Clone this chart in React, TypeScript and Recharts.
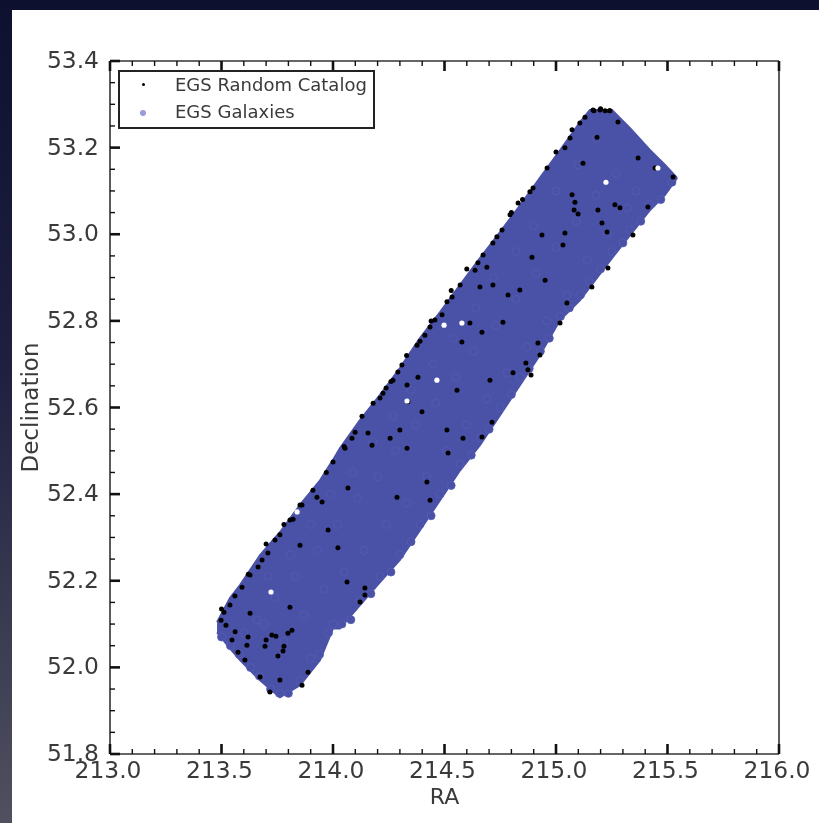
import React from "react";
import {
  Area,
  CartesianGrid,
  ComposedChart,
  Label,
  Legend,
  Scatter,
  XAxis,
  YAxis,
} from "recharts";

// survey footprint
const edgeRa = [213.48, 213.538, 213.583, 213.673, 213.762, 213.852, 213.942, 214.0, 214.031, 214.121, 214.211, 214.3, 214.39, 214.48, 214.57, 214.659, 214.749, 214.839, 214.928, 215.018, 215.108, 215.152, 215.251, 215.332, 215.422, 215.489, 215.543];
const edgeLow = [52.081, 52.044, 52.017, 51.97, 51.931, 51.959, 52.017, 52.09, 52.09, 52.144, 52.197, 52.248, 52.317, 52.386, 52.455, 52.513, 52.582, 52.652, 52.721, 52.802, 52.848, 52.878, 52.945, 52.998, 53.056, 53.091, 53.13];
const edgeHigh = [52.104, 52.16, 52.19, 52.259, 52.312, 52.375, 52.432, 52.479, 52.506, 52.571, 52.629, 52.691, 52.76, 52.82, 52.883, 52.945, 53.005, 53.067, 53.13, 53.194, 53.259, 53.287, 53.287, 53.245, 53.194, 53.16, 53.13];

// random catalog points left visible between the galaxies, then along the upper edge, then inside the bigger gaps
const catalogRa = [213.91, 213.951, 213.861, 213.821, 213.762, 213.708, 213.852, 213.664, 213.592, 213.538, 213.498, 213.628, 213.561, 213.619, 213.726, 213.798, 213.695, 213.776, 213.574, 214.121, 214.063, 214.143, 213.978, 214.067, 213.807, 214.022, 213.762, 213.861, 213.717, 213.673, 213.888, 213.605, 214.412, 214.377, 214.291, 214.224, 214.578, 214.157, 214.085, 214.0, 214.175, 214.399, 214.511, 214.3, 214.332, 214.256, 214.336, 214.704, 214.556, 214.713, 214.668, 214.287, 214.435, 214.381, 214.332, 214.516, 214.583, 214.421, 214.883, 214.717, 214.758, 214.673, 214.637, 215.072, 215.081, 215.264, 214.511, 214.489, 214.614, 214.762, 214.69, 214.785, 214.659, 214.874, 214.928, 215.018, 215.161, 215.233, 215.04, 215.206, 215.229, 214.892, 214.717, 214.838, 214.951, 215.049, 214.919, 214.807, 215.031, 214.937, 214.668, 215.22, 215.107, 215.278, 215.063, 215.184, 214.96, 214.897, 215.368, 215.444, 215.525, 215.188, 215.412, 215.345, 215.121, 213.5, 213.56, 213.62, 213.7, 213.78, 213.97, 214.05, 214.13, 214.18, 214.26, 214.33, 214.44, 214.53, 214.6, 214.8, 214.85, 215.0, 215.04, 215.13, 215.17, 215.2, 215.24, 215.166, 215.197, 215.242, 215.072, 214.83, 214.794, 214.57, 214.534, 214.457, 214.054, 214.099, 213.852, 213.807, 213.74, 213.628, 214.238, 214.211, 214.309, 214.269, 214.39, 214.435, 213.928, 213.682, 213.511, 213.52, 214.735, 214.65, 214.888, 214.865, 215.085, 215.099, 215.287, 213.78, 213.753, 213.7, 213.744, 213.816, 214.143, 213.547, 213.614];
const catalogDec = [52.409, 52.382, 52.375, 52.342, 52.306, 52.264, 52.282, 52.232, 52.185, 52.144, 52.109, 52.125, 52.082, 52.07, 52.075, 52.079, 52.049, 52.038, 52.035, 52.151, 52.197, 52.183, 52.317, 52.414, 52.139, 52.276, 51.971, 51.959, 51.943, 51.978, 51.989, 52.017, 52.767, 52.744, 52.682, 52.633, 52.751, 52.541, 52.529, 52.474, 52.513, 52.59, 52.548, 52.548, 52.506, 52.529, 52.613, 52.663, 52.64, 52.566, 52.532, 52.393, 52.386, 52.67, 52.652, 52.495, 52.529, 52.428, 53.098, 52.98, 53.01, 52.952, 52.917, 53.091, 53.056, 53.068, 52.844, 52.814, 52.795, 52.797, 52.924, 52.86, 52.878, 52.687, 52.721, 52.795, 52.878, 52.922, 53.003, 53.026, 53.005, 52.947, 52.883, 52.871, 52.894, 52.841, 52.749, 52.68, 52.975, 52.998, 52.774, 53.285, 53.257, 53.259, 53.222, 53.224, 53.153, 53.107, 53.176, 53.153, 53.132, 53.056, 53.063, 52.998, 53.164, 52.135, 52.165, 52.215, 52.285, 52.33, 52.45, 52.51, 52.58, 52.61, 52.66, 52.72, 52.8, 52.87, 52.92, 53.05, 53.08, 53.19, 53.2, 53.27, 53.285, 53.29, 53.285, 53.287, 53.287, 53.285, 53.241, 53.072, 53.045, 52.883, 52.855, 52.802, 52.506, 52.543, 52.375, 52.34, 52.294, 52.213, 52.645, 52.622, 52.698, 52.663, 52.753, 52.786, 52.393, 52.248, 52.127, 52.097, 52.994, 52.934, 52.675, 52.703, 53.074, 53.047, 53.061, 52.049, 52.026, 52.063, 52.072, 52.086, 52.167, 52.063, 52.051];

// galaxies on the lower edge, then a sample from inside the strip
const galaxyRa = [213.5, 213.54, 213.58, 213.63, 213.67, 213.72, 213.76, 213.8, 213.85, 213.9, 213.94, 213.98, 214.0, 214.04, 214.08, 214.12, 214.17, 214.21, 214.26, 214.3, 214.35, 214.39, 214.44, 214.48, 214.53, 214.57, 214.62, 214.66, 214.7, 214.75, 214.8, 214.84, 214.88, 214.93, 214.97, 215.02, 215.06, 215.11, 215.15, 215.2, 215.25, 215.3, 215.33, 215.38, 215.42, 215.47, 215.52, 213.66, 213.74, 213.83, 213.93, 214.02, 214.11, 214.2, 214.28, 214.37, 214.46, 214.55, 214.63, 214.73, 214.82, 214.91, 215.0, 215.09, 215.18, 215.27, 215.36, 213.6, 213.69, 213.78, 213.87, 213.96, 214.05, 214.14, 214.24, 214.33, 214.42, 214.51, 214.6, 214.69, 214.78, 214.87, 214.96, 215.05, 215.14, 215.23, 215.32, 213.71, 213.81, 213.9, 213.99, 214.09, 214.18, 214.27, 214.35, 214.45, 214.54, 214.64, 214.72, 214.82, 214.9, 215.0, 215.1, 215.18];
const galaxyDec = [52.07, 52.05, 52.03, 52.0, 51.98, 51.95, 51.94, 51.94, 51.97, 52.02, 52.03, 52.08, 52.1, 52.1, 52.11, 52.155, 52.17, 52.21, 52.22, 52.26, 52.29, 52.33, 52.35, 52.4, 52.42, 52.47, 52.49, 52.53, 52.55, 52.6, 52.63, 52.67, 52.69, 52.73, 52.76, 52.81, 52.83, 52.86, 52.89, 52.92, 52.96, 52.98, 53.01, 53.03, 53.07, 53.08, 53.12, 52.11, 52.16, 52.21, 52.27, 52.33, 52.39, 52.44, 52.5, 52.56, 52.61, 52.67, 52.73, 52.79, 52.85, 52.91, 52.97, 53.03, 53.09, 53.14, 53.1, 52.08, 52.1, 52.06, 52.12, 52.18, 52.22, 52.27, 52.33, 52.38, 52.44, 52.5, 52.56, 52.62, 52.68, 52.74, 52.8, 52.86, 52.94, 53.0, 53.06, 52.21, 52.26, 52.33, 52.4, 52.45, 52.52, 52.58, 52.64, 52.7, 52.76, 52.83, 52.9, 52.96, 53.02, 53.1, 53.16, 53.22];

// holes where neither catalog has anything
const emptyRa = [213.722, 214.466, 214.332, 214.498, 214.578, 215.072, 215.224, 215.457, 213.839];
const emptyDec = [52.174, 52.663, 52.615, 52.79, 52.795, 52.807, 53.12, 53.153, 52.359];

const raMajor = [213, 213.5, 214, 214.5, 215, 215.5, 216];
const raTicks = [213, 213.1, 213.2, 213.3, 213.4, 213.5, 213.6, 213.7, 213.8, 213.9, 214, 214.1, 214.2, 214.3, 214.4, 214.5, 214.6, 214.7, 214.8, 214.9, 215, 215.1, 215.2, 215.3, 215.4, 215.5, 215.6, 215.7, 215.8, 215.9, 216];
const decMajor = [51.8, 52, 52.2, 52.4, 52.6, 52.8, 53, 53.2, 53.4];
const decTicks = [51.8, 51.85, 51.9, 51.95, 52, 52.05, 52.1, 52.15, 52.2, 52.25, 52.3, 52.35, 52.4, 52.45, 52.5, 52.55, 52.6, 52.65, 52.7, 52.75, 52.8, 52.85, 52.9, 52.95, 53, 53.05, 53.1, 53.15, 53.2, 53.25, 53.3, 53.35, 53.4];

const footprint = edgeRa.map((ra, i) => ({ ra, band: [edgeLow[i], edgeHigh[i]] }));
const catalog = catalogRa.map((ra, i) => ({ ra, dec: catalogDec[i] }));
const galaxies = galaxyRa.map((ra, i) => ({ ra, dec: galaxyDec[i] }));
const empty = emptyRa.map((ra, i) => ({ ra, dec: emptyDec[i] }));

const CATALOG_NAME = "EGS Random Catalog";
const GALAXY_NAME = "EGS Galaxies";

const FONT = "'DejaVu Sans', sans-serif";
const INK = "#3a3a3a";
const BLUE = "#4a52a8";

const isMajor = (list: number[], v: number) => list.some((m) => Math.abs(m - v) < 1e-6);

// inward ticks, direction 1 = down/right from the axis, -1 = up/left
const XTick = ({ x, y, payload, dir, labelled }: any) => {
  const major = isMajor(raMajor, payload.value);
  return (
    <g>
      <line x1={x} x2={x} y1={y} y2={y + dir * (major ? 10 : 5)} stroke="#111" strokeWidth={major ? 2.6 : 1.4} />
      {labelled && major && (
        <text x={x - 2} y={y + 24} textAnchor="middle" fontFamily={FONT} fontSize={23.4} fill={INK}>
          {payload.value.toFixed(1)}
        </text>
      )}
    </g>
  );
};

const YTick = ({ x, y, payload, dir, labelled }: any) => {
  const major = isMajor(decMajor, payload.value);
  return (
    <g>
      <line x1={x} x2={x + dir * (major ? 10 : 5)} y1={y} y2={y} stroke="#111" strokeWidth={major ? 2.6 : 1.4} />
      {labelled && major && (
        <text x={x - 11} y={y + 7} textAnchor="end" fontFamily={FONT} fontSize={23.4} fill={INK}>
          {payload.value.toFixed(1)}
        </text>
      )}
    </g>
  );
};

const dot = (r: number, fill: string, stroke?: string) => (props: any) =>
  <circle cx={props.cx} cy={props.cy} r={r} fill={fill} stroke={stroke} strokeWidth={stroke ? 0.8 : 0} />;

const LegendBox = ({ payload }: any) => {
  const rows = [CATALOG_NAME, GALAXY_NAME].map((name) => (payload || []).find((p: any) => p.value === name)).filter(Boolean);
  return (
    <div style={{ width: 257, height: 59, boxSizing: "border-box", background: "#fff", border: "2px solid #222", fontFamily: FONT, fontSize: 18, color: "#3a3a3a" }}>
      {rows.map((entry: any, i: number) => (
        <div key={entry.value} style={{ position: "absolute", left: 0, top: i * 27 + 1, height: 27, lineHeight: "27px", whiteSpace: "nowrap" }}>
          <span
            style={{
              position: "absolute",
              left: i === 0 ? 24 : 22,
              top: i === 0 ? 12 : 12,
              width: i === 0 ? 3 : 6,
              height: i === 0 ? 3 : 6,
              borderRadius: "50%",
              background: entry.color,
            }}
          />
          <span style={{ position: "absolute", left: 57 }}>{entry.value}</span>
        </div>
      ))}
    </div>
  );
};

export default function App() {
  return (
    <div style={{ position: "absolute", left: 0, top: 0, width: 819, height: 823, overflow: "hidden", background: "linear-gradient(#0e1030, #1f2040 45%, #50505f)" }}>
      <div style={{ position: "absolute", left: 12, top: 10, width: 807, height: 813, background: "#fff" }} />
      <div style={{ position: "absolute", left: 0, top: 0, filter: "blur(0.7px)" }}>
        <ComposedChart width={819} height={823} data={footprint} margin={{ top: 60, right: 39, bottom: 9, left: 10 }}>
          <CartesianGrid stroke="#c4c4c4" strokeWidth={1.2} horizontalValues={decMajor} verticalValues={raMajor} />
          <XAxis
            xAxisId="bottom"
            dataKey="ra"
            type="number"
            domain={[213, 216]}
            ticks={raTicks}
            interval={0}
            height={60}
            tickSize={0}
            tickMargin={0}
            tickLine={false}
            stroke="#333"
            strokeWidth={1.6}
            tick={<XTick dir={-1} labelled />}
          >
            <Label value="RA" position="insideBottom" offset={10} fontFamily={FONT} fontSize={22} fill={INK} />
          </XAxis>
          <XAxis
            xAxisId="top"
            orientation="top"
            dataKey="ra"
            type="number"
            domain={[213, 216]}
            ticks={raTicks}
            interval={0}
            height={1}
            tickSize={0}
            tickMargin={0}
            tickLine={false}
            stroke="#333"
            strokeWidth={1.6}
            tick={<XTick dir={1} />}
          />
          <YAxis
            yAxisId="left"
            type="number"
            domain={[51.8, 53.4]}
            ticks={decTicks}
            interval={0}
            width={100}
            tickSize={0}
            tickMargin={0}
            tickLine={false}
            stroke="#333"
            strokeWidth={1.6}
            tick={<YTick dir={1} labelled />}
          >
            <Label value="Declination" angle={-90} position="insideLeft" offset={20} style={{ textAnchor: "middle" }} fontFamily={FONT} fontSize={23} fill={INK} />
          </YAxis>
          <YAxis
            yAxisId="right"
            orientation="right"
            type="number"
            domain={[51.8, 53.4]}
            ticks={decTicks}
            interval={0}
            width={1}
            tickSize={0}
            tickMargin={0}
            tickLine={false}
            stroke="#333"
            strokeWidth={1.6}
            tick={<YTick dir={-1} />}
          />
          <Area
            xAxisId="bottom"
            yAxisId="left"
            dataKey="band"
            type="linear"
            fill={BLUE}
            fillOpacity={1}
            stroke={BLUE}
            strokeWidth={2}
            legendType="none"
            dot={false}
            activeDot={false}
            isAnimationActive={false}
          />
          <Scatter xAxisId="bottom" yAxisId="left" name={GALAXY_NAME} data={galaxies} dataKey="dec" fill="#9a9ade" shape={dot(4, BLUE, "#565cb0")} isAnimationActive={false} />
          <Scatter xAxisId="bottom" yAxisId="left" name={CATALOG_NAME} data={catalog} dataKey="dec" fill="#000" shape={dot(2.5, "#000")} isAnimationActive={false} />
          <Scatter xAxisId="bottom" yAxisId="left" data={empty} dataKey="dec" fill="#fff" legendType="none" shape={dot(2.6, "#fff")} isAnimationActive={false} />
          <Legend
            content={<LegendBox />}
            layout="horizontal"
            verticalAlign="middle"
            wrapperStyle={{ position: "absolute", left: 118, top: 70, width: 257, height: 59, bottom: "auto" }}
          />
        </ComposedChart>
      </div>
    </div>
  );
}
